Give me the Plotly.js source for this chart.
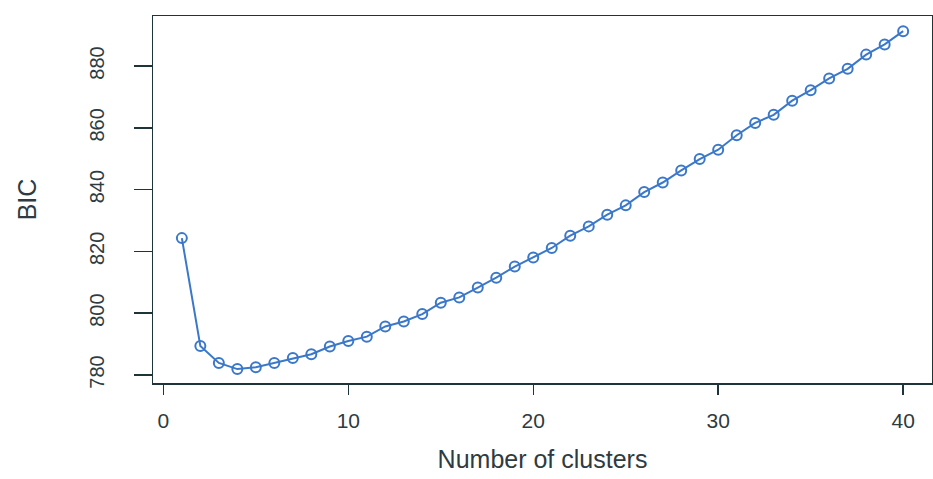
<!DOCTYPE html>
<html>
<head>
<meta charset="utf-8">
<script src="https://cdn.plot.ly/plotly-3.0.1.min.js"></script>
<style>html,body{margin:0;padding:0;background:#fff;}#chart{width:933px;height:479px;}</style>
</head>
<body>
<div id="chart"></div>
<script>
const clusters = [1,2,3,4,5,6,7,8,9,10,11,12,13,14,15,16,17,18,19,20,21,22,23,24,25,26,27,28,29,30,31,32,33,34,35,36,37,38,39,40];
const bic = [824.3,789.4,783.9,781.9,782.5,783.9,785.5,786.7,789.2,791.0,792.4,795.7,797.3,799.7,803.4,805.1,808.3,811.5,815.1,818.0,821.1,825.1,828.1,831.9,834.9,839.2,842.3,846.2,849.9,852.9,857.6,861.6,864.2,868.8,872.2,876.0,879.1,883.7,887.0,891.3];
const xTicks = [0,10,20,30,40];
const yTicks = [780,800,820,840,860,880];
const xTitle = "Number of clusters";
const yTitle = "BIC";

const textColor = "#2e3b40";
const axisColor = "#1f3438";

const trace = {
  x: clusters, y: bic, type: "scatter", mode: "lines+markers",
  line: {color: "#3b78c9", width: 2},
  marker: {symbol: "circle-open", size: 10, color: "#3b78c9", line: {width: 2, color: "#3b78c9"}},
  hoverinfo: "skip"
};

const layout = {
  width: 933, height: 479,
  margin: {l: 153, r: 1, t: 16, b: 96},
  paper_bgcolor: "#ffffff", plot_bgcolor: "#ffffff",
  showlegend: false,
  font: {family: "Liberation Sans, Arial, sans-serif", color: textColor},
  xaxis: {
    range: [-0.56, 41.56], autorange: false,
    tickmode: "array", tickvals: xTicks, ticktext: xTicks.map(String),
    ticks: "outside", ticklen: 10, tickwidth: 1.5, tickcolor: axisColor,
    showline: true, mirror: true, linecolor: axisColor, linewidth: 1.5,
    showgrid: false, zeroline: false,
    tickfont: {size: 21, color: textColor},
    ticklabelstandoff: 8,
    title: {text: xTitle, font: {size: 25, color: textColor}, standoff: 20}
  },
  yaxis: {
    range: [777.4, 896.2], autorange: false,
    tickmode: "array", tickvals: yTicks, ticktext: yTicks.map(String),
    ticks: "outside", ticklen: 18, tickwidth: 1.5, tickcolor: axisColor,
    showline: true, mirror: true, linecolor: axisColor, linewidth: 1.5,
    showgrid: false, zeroline: false,
    tickangle: -90,
    tickfont: {size: 20, color: textColor},
    ticklabelstandoff: 22,
    title: {text: yTitle, font: {size: 25, color: textColor}, standoff: 42}
  }
};

Plotly.newPlot("chart", [trace], layout, {staticPlot: true, displayModeBar: false});
</script>
</body>
</html>
